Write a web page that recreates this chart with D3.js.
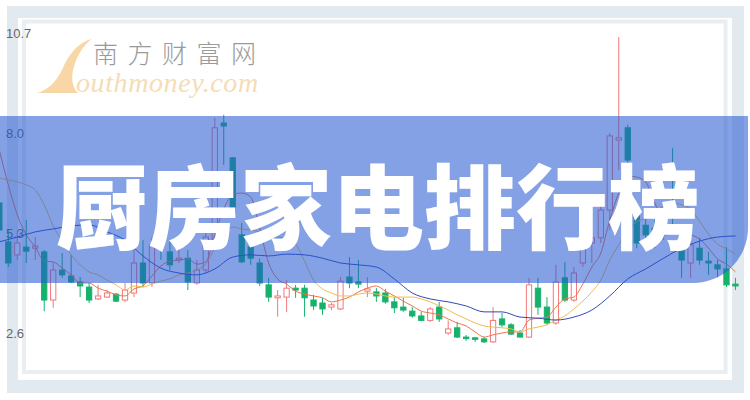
<!DOCTYPE html>
<html><head><meta charset="utf-8">
<script src="https://cdn.jsdelivr.net/npm/d3@7"></script>
<style>body{margin:0;background:#fff;}svg{display:block}</style>
</head><body><svg id="c" width="750" height="400"></svg>
<script>
// candle data (price units), one entry per trading day
const open = [6.11,5.06,4.71,4.92,4.89,4.79,3.49,4.30,4.14,3.98,3.84,3.52,3.57,3.65,3.49,3.68,4.49,3.95,5.17,4.79,4.57,4.62,3.95,4.30,5.11,8.27,7.33,5.25,4.92,4.49,3.90,3.55,3.57,3.81,3.81,3.49,3.41,3.30,3.25,4.11,3.98,3.73,3.71,3.68,3.44,3.30,3.19,3.06,2.94,3.30,2.60,2.74,2.49,2.47,2.44,2.36,2.98,2.82,2.60,2.49,3.81,3.30,2.87,4.09,3.49,4.49,5.03,5.17,5.92,7.81,8.14,5.92,5.51,5.43,5.25,5.97,5.11,4.49,4.89,4.54,4.44,4.33,3.92];
const close = [5.38,4.49,5.03,4.81,4.95,3.49,4.30,4.17,3.98,3.87,3.49,3.60,3.68,3.46,3.76,4.49,3.95,4.98,4.92,4.44,4.62,3.98,4.30,5.19,8.14,8.19,5.84,4.52,4.62,3.95,3.57,3.60,3.81,3.76,3.55,3.33,3.25,3.36,4.00,3.95,3.92,3.79,3.60,3.44,3.28,3.22,3.06,2.94,3.25,2.98,2.71,2.49,2.47,2.44,2.36,2.94,2.82,2.57,2.49,3.90,3.30,2.87,3.98,3.49,4.22,5.06,5.17,5.92,7.92,7.87,7.27,5.03,5.25,5.11,5.79,5.84,4.57,4.98,4.57,4.49,4.33,3.90,3.87];
const high = [6.24,5.38,5.38,5.65,5.19,4.84,4.49,4.76,4.71,4.11,3.95,3.90,3.76,3.68,3.95,4.92,5.11,5.19,5.38,5.11,4.89,4.84,4.57,5.38,8.41,8.49,7.35,5.57,5.17,4.62,4.09,3.76,4.03,3.90,3.90,3.63,3.55,3.41,4.11,4.65,4.57,4.11,3.81,3.79,3.57,3.55,3.30,3.17,3.30,3.44,2.94,2.90,2.55,2.49,2.49,3.30,3.14,2.87,2.68,4.09,4.09,3.57,4.44,4.52,4.38,5.30,5.38,6.19,8.00,10.59,8.22,6.06,5.79,5.65,5.92,7.60,5.30,5.25,5.17,4.79,4.57,4.92,4.09];
const low = [5.25,4.38,4.57,4.49,4.57,3.19,3.28,4.09,3.95,3.57,3.41,3.49,3.55,3.44,3.44,3.57,3.84,3.84,4.57,4.30,4.49,3.76,3.90,4.22,4.98,7.14,5.79,4.49,4.44,3.87,3.44,3.04,3.17,3.55,3.04,3.22,3.09,3.22,3.22,3.81,3.81,3.57,3.44,3.39,3.14,3.17,3.01,2.92,2.90,2.90,2.55,2.47,2.39,2.36,2.33,2.33,2.76,2.55,2.49,2.47,3.09,2.82,2.82,3.44,3.44,4.38,4.49,5.03,5.38,7.00,7.00,4.89,5.11,4.89,5.11,5.38,4.09,4.09,4.44,4.17,4.11,3.84,3.76];
// moving averages
const ma5 = [7.54,6.60,5.79,5.25,4.92,4.54,4.52,4.35,4.17,3.95,3.95,3.81,3.73,3.63,3.60,3.79,3.87,4.14,4.41,4.54,4.57,4.60,4.46,4.52,5.25,5.95,6.33,6.38,6.27,5.43,4.49,4.06,3.92,3.73,3.65,3.60,3.55,3.44,3.49,3.57,3.71,3.81,3.87,3.73,3.60,3.46,3.33,3.19,3.14,3.09,2.98,2.87,2.79,2.63,2.49,2.55,2.60,2.63,2.63,2.95,3.00,3.03,3.30,3.52,3.57,3.92,4.38,4.76,5.65,6.38,6.84,6.81,6.68,6.11,5.68,5.41,5.30,5.25,5.14,4.89,4.60,4.46,4.25];
const ma10 = [6.79,6.73,6.68,6.60,6.46,6.06,5.49,5.08,4.71,4.44,4.25,4.17,4.03,3.90,3.76,3.87,3.84,3.92,4.00,4.06,4.17,4.22,4.30,4.46,4.89,5.25,5.46,5.41,5.38,5.33,5.22,5.19,5.14,5.00,4.54,4.03,3.79,3.68,3.60,3.60,3.65,3.68,3.65,3.60,3.57,3.57,3.57,3.52,3.44,3.33,3.22,3.09,2.98,2.87,2.79,2.76,2.74,2.71,2.63,2.71,2.76,2.82,2.95,3.06,3.25,3.46,3.71,4.03,4.57,4.98,5.38,5.60,5.70,5.87,6.03,6.11,6.06,5.95,5.62,5.27,5.00,4.87,4.73];
// MA20 read at every second day
const ma20 = [5.06,5.19,5.33,5.41,5.49,5.52,5.33,5.11,4.68,4.35,4.22,4.17,4.33,4.65,4.71,4.68,4.73,4.71,4.62,4.49,4.44,4.38,4.06,3.68,3.52,3.44,3.33,3.17,3.17,3.03,3.00,2.95,3.03,3.22,3.60,4.06,4.33,4.62,4.89,5.08,5.19,5.22];
const tickValues = [10.7, 8.0, 5.3, 2.6];
const tickLabels = ["10.7", "8.0", "5.3", "2.6"];
const title = "厨房家电排行榜";
const brandCn = "南方财富网";
const brandEn = "outhmoney.com";

const days = open.map((_, i) => i);
const svg = d3.select("#c");

// frame
svg.append("rect").attr("x",7).attr("y",6).attr("width",737).attr("height",387).attr("fill","#e2eaef");
svg.append("rect").attr("x",18).attr("y",18).attr("width",714).attr("height",362).attr("fill","#fff");
svg.append("rect").attr("x",24).attr("y",21.5).attr("width",701.5).attr("height",350.5)
  .attr("fill","none").attr("stroke","#e8eef2").attr("stroke-width",4);

// watermark
const wm = svg.append("g");
wm.append("path").attr("d","M92,39 C78,42 68,55 62,70 C56,82 48,90 37,93 L78,93 C73,88 71,80 73,70 C76,58 82,46 92,39 Z")
  .attr("fill","#f7cf95").attr("opacity",0.85);
wm.append("text").attr("x",93).attr("y",63).text(brandCn)
  .attr("font-family","'Noto Sans CJK SC'").attr("font-weight",300).attr("font-size",25)
  .attr("letter-spacing",9.5).attr("fill","#9a9a9a");
wm.append("text").attr("x",76).attr("y",92).text(brandEn)
  .attr("font-family","'Liberation Serif'").attr("font-style","italic").attr("font-size",28)
  .attr("letter-spacing",0.6).attr("fill","#f6dcb5");

// scales
const x = d3.scaleBand().domain(days).range([-6.5, 741.3]).padding(0.3);
const y = d3.scaleLinear().domain([2.6, 10.7]).range([333, 33]);
const cx = d => x(d) + x.bandwidth()/2;

// axis labels
const ax = svg.append("g").attr("transform","translate(6,0)")
  .call(d3.axisRight(y).tickValues(tickValues).tickSize(0).tickPadding(0)
    .tickFormat((d,i) => tickLabels[i]));
ax.select(".domain").remove();
ax.selectAll("text").attr("font-family","'Liberation Sans', Arial, sans-serif")
  .attr("font-size",13).attr("fill","#666");

// candles
const up = "#f07878", down = "#16b26c";
const g = svg.append("g");
const c = g.selectAll("g.k").data(days).join("g").attr("class","k");
c.append("line").attr("x1",cx).attr("x2",cx)
  .attr("y1",d => y(high[d])).attr("y2",d => y(low[d]))
  .attr("stroke",d => close[d] >= open[d] ? up : down).attr("stroke-width",1);
c.append("rect").attr("x",d => x(d)+0.5).attr("width",x.bandwidth()-1)
  .attr("y",d => y(Math.max(open[d],close[d])))
  .attr("height",d => Math.max(1.5, Math.abs(y(open[d]) - y(close[d]))))
  .attr("fill",d => close[d] >= open[d] ? "#fff" : down)
  .attr("stroke",d => close[d] >= open[d] ? up : down).attr("stroke-width",1);

// moving averages
const line = d3.line().x(d => cx(d[0])).y(d => y(d[1])).curve(d3.curveMonotoneX);
svg.append("path").datum(days.map(d => [d, ma5[d]])).attr("d",line)
  .attr("fill","none").attr("stroke","#f07448").attr("stroke-width",1);
svg.append("path").datum(days.map(d => [d, ma10[d]])).attr("d",line)
  .attr("fill","none").attr("stroke","#efbd4a").attr("stroke-width",1);
svg.append("path").datum(days.filter(d => d % 2 === 0).map((d,i) => [d, ma20[i]])).attr("d",line)
  .attr("fill","none").attr("stroke","#3347b8").attr("stroke-width",1);

// banner
svg.append("path").attr("d","M0,116 H748 V228 A55,55 0 0 1 693,283 H0 Z")
  .attr("fill","rgb(35,88,210)").attr("opacity",0.56);
svg.append("text").attr("x",378).attr("y",201).attr("text-anchor","middle")
  .attr("dominant-baseline","central").text(title)
  .attr("font-family","'Noto Sans CJK SC'").attr("font-weight",900).attr("font-size",92)
  .attr("fill","#fff");
</script></body></html>
